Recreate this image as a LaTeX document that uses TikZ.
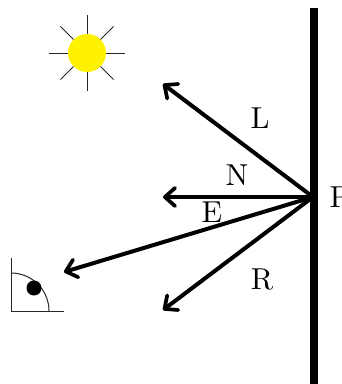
\documentclass[tikz,border=0pt]{standalone}
\usetikzlibrary{arrows.meta}
\definecolor{sunyellow}{RGB}{255,242,0}
\tikzset{
  ray/.style={line width=1.4pt,-{Straight Barb[length=3.6pt,width=6.4pt,line width=1.3pt,round]}},
  thinline/.style={line width=0.35pt,black!85},
  lbl/.style={inner sep=0pt,font=\fontsize{10.6}{12}\selectfont}
}
\begin{document}
\begin{tikzpicture}[x=0.35pt,y=-0.35pt]
\useasboundingbox (0,0) rectangle (342,384);
\clip (0,0) rectangle (342,384);
% sun
\coordinate (sun) at (87,53);
\foreach \a in {0,45,...,315}
  \draw[thinline] (sun) -- ++(\a:{mod(\a,90)==0 ? 38 : 37.5});
\node[circle,fill=sunyellow,minimum size=13.3pt,inner sep=0pt] (disc) at (sun) {};
% wall
\coordinate (walltop) at (314,8);
\coordinate (wallbot) at (314,384);
\draw[line width=2.7pt] (walltop) -- (wallbot);
% rays
\coordinate (p) at (313,197);
\coordinate (l) at (163,84);
\coordinate (n) at (163,197);
\coordinate (e) at (64,272);
\coordinate (r) at (163,310);
\draw[ray] (p) -- (l);
\draw[ray] (p) -- (n);
\draw[ray] (p) -- (e);
\draw[ray] (p) -- (r);
% labels
\node[lbl] (tl) at (260,118) {L};
\node[lbl] (tn) at (237,175) {N};
\node[lbl] (te) at (212,212) {E};
\node[lbl] (tr) at (262,279) {R};
\node[lbl,anchor=west] (tp) at (329,197) {P};
% eye
\coordinate (eo) at (11,311);
\draw[thinline] (11,258) -- (eo) -- (64,311);
\draw[thinline] (11,273) arc[start angle=-90,end angle=0,radius=38];
\fill (34,288) circle[radius=7.5];
\end{tikzpicture}
\end{document}
